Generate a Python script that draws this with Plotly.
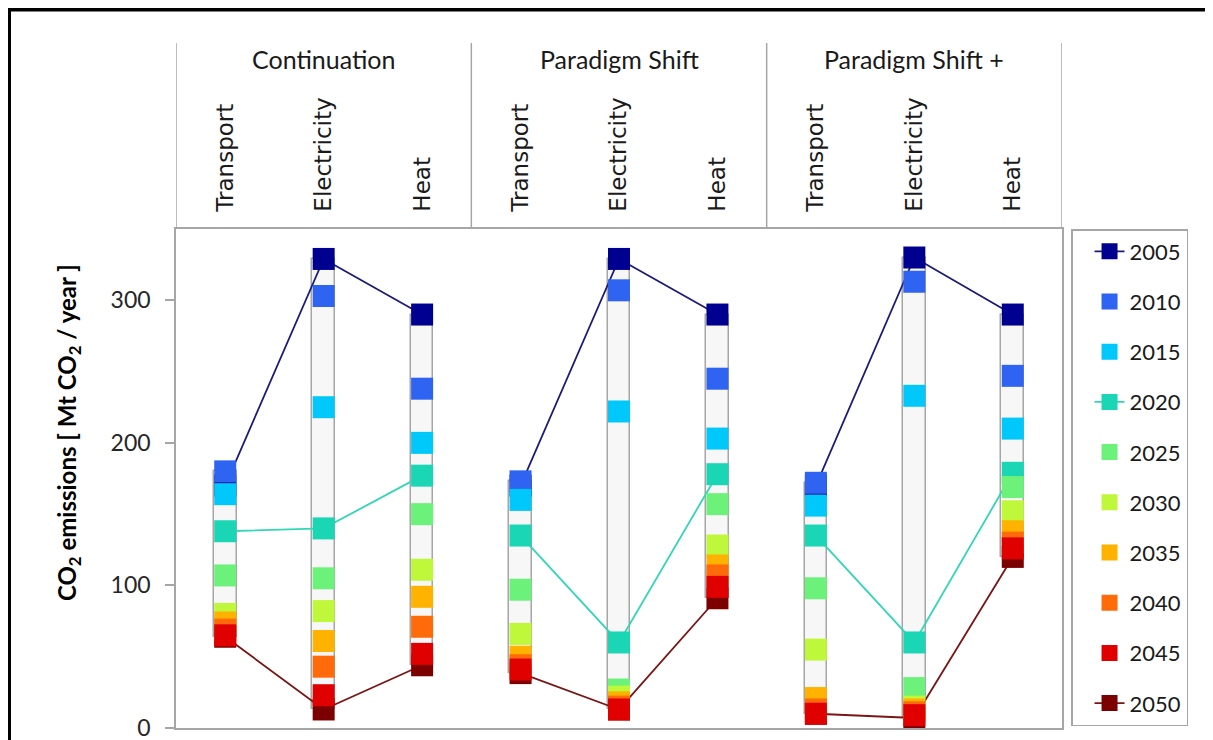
import plotly.graph_objects as go

scenarios = ["Continuation", "Paradigm Shift", "Paradigm Shift +"]
sectors = ["Transport", "Electricity", "Heat"]
years = [2005, 2010, 2015, 2020, 2025, 2030, 2035, 2040, 2045, 2050]

# values per column: C-T, C-E, C-H, PS-T, PS-E, PS-H, PS+-T, PS+-E, PS+-H
v2005 = [170, 329, 290, 170, 329, 290, 170, 330, 290]
v2010 = [180, 303, 238, 173, 307, 245, 172, 313, 247]
v2015 = [164, 225, 200, 160, 222, 203, 156, 233, 210]
v2020 = [138, 140, 177, 135, 60, 178, 135, 60, 179]
v2025 = [107, 105, 150, 97, 27, 157, 98, 28, 169]
v2030 = [80, 82, 111, 66, 22, 128, 55, 15, 152]
v2035 = [74, 61, 92, 50, 18, 114, 21, 13, 138]
v2040 = [69, 43, 71, 44, 15, 107, 13, 11, 130]
v2045 = [65, 23, 52, 41, 13, 99, 10, 9, 126]
v2050 = [64, 13, 44, 38.5, 13, 91, 10, 7, 120]

values = [v2005, v2010, v2015, v2020, v2025, v2030, v2035, v2040, v2045, v2050]
colors = ["#000090", "#2f63f2", "#00c8fa", "#1ad6b4", "#6cf27a",
          "#bff73a", "#ffb300", "#ff6a0a", "#e00000", "#7d0000"]
line_years = {2005: "#1c1c78", 2020: "#33d6b5", 2050: "#7a1515"}

ids = [f"{s}|{t}" for s in scenarios for t in sectors]

FONT = "Lato"
GRAY = "#a6a6a6"

fig = go.Figure()

# floating range bars (min..max per column)
lows = [min(col) for col in zip(*values)]
highs = [max(col) for col in zip(*values)]
fig.add_trace(go.Bar(
    x=ids, y=[h - l for h, l in zip(highs, lows)], base=lows, width=0.23,
    marker=dict(color="#f7f7f7", line=dict(color=GRAY, width=1.5)),
    showlegend=False, hoverinfo="skip"))


def with_gaps(xs, ys):
    gx, gy = [], []
    for i in range(len(scenarios)):
        gx += xs[i * 3:i * 3 + 3] + [None]
        gy += ys[i * 3:i * 3 + 3] + [None]
    return gx, gy


order = [9, 0, 1, 2, 3, 4, 5, 6, 7, 8]  # 2050 drawn beneath 2045
for k in order:
    yr = years[k]
    if yr in line_years:
        gx, gy = with_gaps(ids, values[k])
        fig.add_trace(go.Scatter(
            x=gx, y=gy, mode="lines+markers", name=str(yr),
            line=dict(color=line_years[yr], width=1.8),
            marker=dict(symbol="square", size=22, color=colors[k]),
            legendrank=yr, legendgroup=str(yr)))
    else:
        fig.add_trace(go.Scatter(
            x=ids, y=values[k], mode="markers", name=str(yr),
            marker=dict(symbol="square", size=22, color=colors[k]),
            legendrank=yr, legendgroup=str(yr)))

# header: scenario titles
annotations = []
for i, s in enumerate(scenarios):
    annotations.append(dict(
        x=ids[i * 3 + 1], xref="x", y=1.341, yref="paper", text=s,
        showarrow=False, yanchor="middle",
        font=dict(family=FONT, size=25, color="#1a1a1a")))
# y-axis title
annotations.append(dict(
    x=-0.1219, xref="paper", y=0.593, yref="paper",
    text="<b>CO<sub>2</sub> emissions [ Mt CO<sub>2</sub> / year ]</b>",
    textangle=-90, showarrow=False, xanchor="center", yanchor="middle",
    font=dict(family=FONT, size=24, color="#000000")))

shapes = []
for xb in [-0.5, 2.5, 5.5, 8.5]:
    shapes.append(dict(type="line", xref="x", yref="paper", x0=xb, x1=xb,
                       y0=1, y1=1.3727, line=dict(color=GRAY, width=1.5)))
# outer black frame
shapes.append(dict(type="rect", xref="paper", yref="paper",
                   x0=-0.18849, x1=1.25, y0=-0.2, y1=1.4399,
                   line=dict(color="#000000", width=4)))

fig.update_layout(
    width=1205, height=732,
    margin=dict(l=168, r=151, t=221, b=12, autoexpand=False),
    paper_bgcolor="white", plot_bgcolor="white",
    showlegend=True,
    legend=dict(x=1.0102, y=1.0, xanchor="left", yanchor="top",
                bordercolor=GRAY, borderwidth=1.5, indentation=17,
                font=dict(family=FONT, size=22, color="#1a1a1a"),
                tracegroupgap=18.6, itemsizing="trace", maxheight=650),
    annotations=annotations, shapes=shapes,
    bargap=0,
)
fig.update_xaxes(
    type="category", categoryorder="array", categoryarray=ids,
    tickvals=ids, ticktext=[t for s in scenarios for t in sectors],
    side="top", tickangle=-90, ticks="", range=[-0.5, 8.5],
    showline=True, mirror=True, linecolor=GRAY, linewidth=1.5,
    showgrid=False, zeroline=False, ticklabelstandoff=11,
    tickfont=dict(family="DejaVu Sans", size=23, color="#1a1a1a"))
fig.update_yaxes(
    range=[0, 350], tickvals=[0, 100, 200, 300],
    showline=True, mirror=True, linecolor=GRAY, linewidth=1.5,
    ticks="outside", ticklen=9, tickcolor=GRAY, tickwidth=1.5,
    showgrid=False, zeroline=False, ticklabelstandoff=10,
    ticklabeloverflow="allow",
    tickfont=dict(family=FONT, size=23, color="#262626"))

fig.write_html("out.html")
